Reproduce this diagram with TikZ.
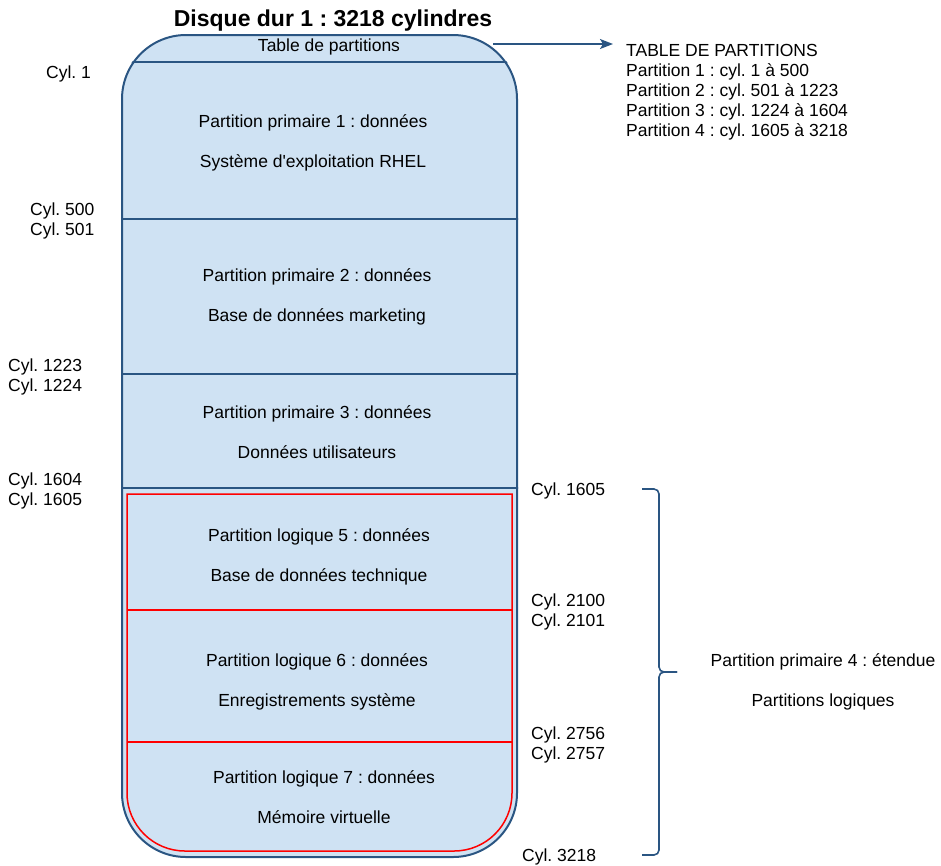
\documentclass[tikz,border=0pt]{standalone}
\usepackage{fontspec}
\setmainfont{Liberation Sans}
\usetikzlibrary{positioning}
\usetikzlibrary{calc}
\usetikzlibrary{arrows.meta}

\definecolor{diskblue}{HTML}{2A5582}
\definecolor{diskfill}{HTML}{CFE2F3}
\definecolor{logred}{HTML}{FF0000}

\tikzset{
	txt/.style={inner sep=0pt, font=\fontsize{17.5}{20}\selectfont\frenchspacing},
	cyl/.style={txt, align=left},
	part/.style={txt, align=center, anchor=north},
	divider/.style={draw=diskblue, line width=1.5pt},
	logline/.style={draw=logred, line width=1.5pt},
	blueline/.style={draw=diskblue, line width=1.6pt},
}

\begin{document}
\begin{tikzpicture}[x=1pt,y=-1pt]
	\useasboundingbox (0,0) rectangle (941,865);
	
	%%%% Disque %%%%
	
	\node[draw=diskblue, fill=diskfill, line width=2pt, rounded corners=64pt, minimum width=395pt, minimum height=822pt, inner sep=0pt] (disk) at (319.5,446) {};
	
	\begin{scope}
	\clip[rounded corners=64pt] (disk.north west) rectangle (disk.south east);
	\foreach \y in {62,219,374,488}
		\draw[divider] (110,\y) -- (530,\y);
	\end{scope}
	
	%%% partitions logiques %%%
	
	\draw[logline] (127,600) -- (127,494) -- (512,494) -- (512,700) [rounded corners=58pt] -- (512,851) -- (127,851) -- cycle;
	\foreach \y in {610,742}
		\draw[logline] (127,\y) -- (512,\y);
	
	\node[txt, font=\fontsize{23}{26}\selectfont\bfseries\frenchspacing, anchor=base] (title) at (333,26) {Disque dur 1 : 3218 cylindres};
	\node[txt, anchor=base] (tblrow) at (329,51) {Table de partitions};
	
	\node[part] (part1) at (313,114) {Partition primaire 1 : données\\[20pt]Système d\textquotesingle exploitation RHEL};
	\node[part] (part2) at (317,268) {Partition primaire 2 : données\\[20pt]Base de données marketing};
	\node[part] (part3) at (317,405) {Partition primaire 3 : données\\[20pt]Données utilisateurs};
	\node[part] (part5) at (319,528) {Partition logique 5 : données\\[20pt]Base de données technique};
	\node[part] (part6) at (317,653) {Partition logique 6 : données\\[20pt]Enregistrements système};
	\node[part] (part7) at (324,770) {Partition logique 7 : données\\[20pt]Mémoire virtuelle};
	
	%%% cylindres %%%
	
	\node[cyl, anchor=base west] (cyl1) at (46,78) {Cyl. 1};
	\node[cyl, anchor=north west] (cyl500) at (30,203) {Cyl. 500\\Cyl. 501};
	\node[cyl, anchor=north west] (cyl1223) at (8,359) {Cyl. 1223\\Cyl. 1224};
	\node[cyl, anchor=north west] (cyl1604) at (8,473) {Cyl. 1604\\Cyl. 1605};
	\node[cyl, anchor=base west] (cyl1605) at (531,495) {Cyl. 1605};
	\node[cyl, anchor=north west] (cyl2100) at (531,594) {Cyl. 2100\\Cyl. 2101};
	\node[cyl, anchor=north west] (cyl2756) at (531,727) {Cyl. 2756\\Cyl. 2757};
	\node[cyl, anchor=base west] (cyl3218) at (522,861) {Cyl. 3218};
	
	%%% table de partitions %%%
	
	\node[cyl, anchor=north west] (tbl) at (626,44) {TABLE DE PARTITIONS\\Partition 1 : cyl. 1 à 500\\Partition 2 : cyl. 501 à 1223\\Partition 3 : cyl. 1224 à 1604\\Partition 4 : cyl. 1605 à 3218};
	
	\coordinate (tabsrc) at (493,44);
	\draw[blueline, -{Stealth[length=13pt,width=10pt,inset=3pt]}] (tabsrc) -- ([xshift=-13pt]tbl.north west);
	
	%%% partition etendue %%%
	
	\draw[blueline, rounded corners=5pt] (642,489) -- (659,489) -- (659,672) -- (677,672);
	\draw[blueline, rounded corners=5pt] (677,672) -- (659,672) -- (659,855) -- (642,855);
	
	\node[part] (ext) at (823,653) {Partition primaire 4 : étendue\\[20pt]Partitions logiques};
	
\end{tikzpicture}
\end{document}
